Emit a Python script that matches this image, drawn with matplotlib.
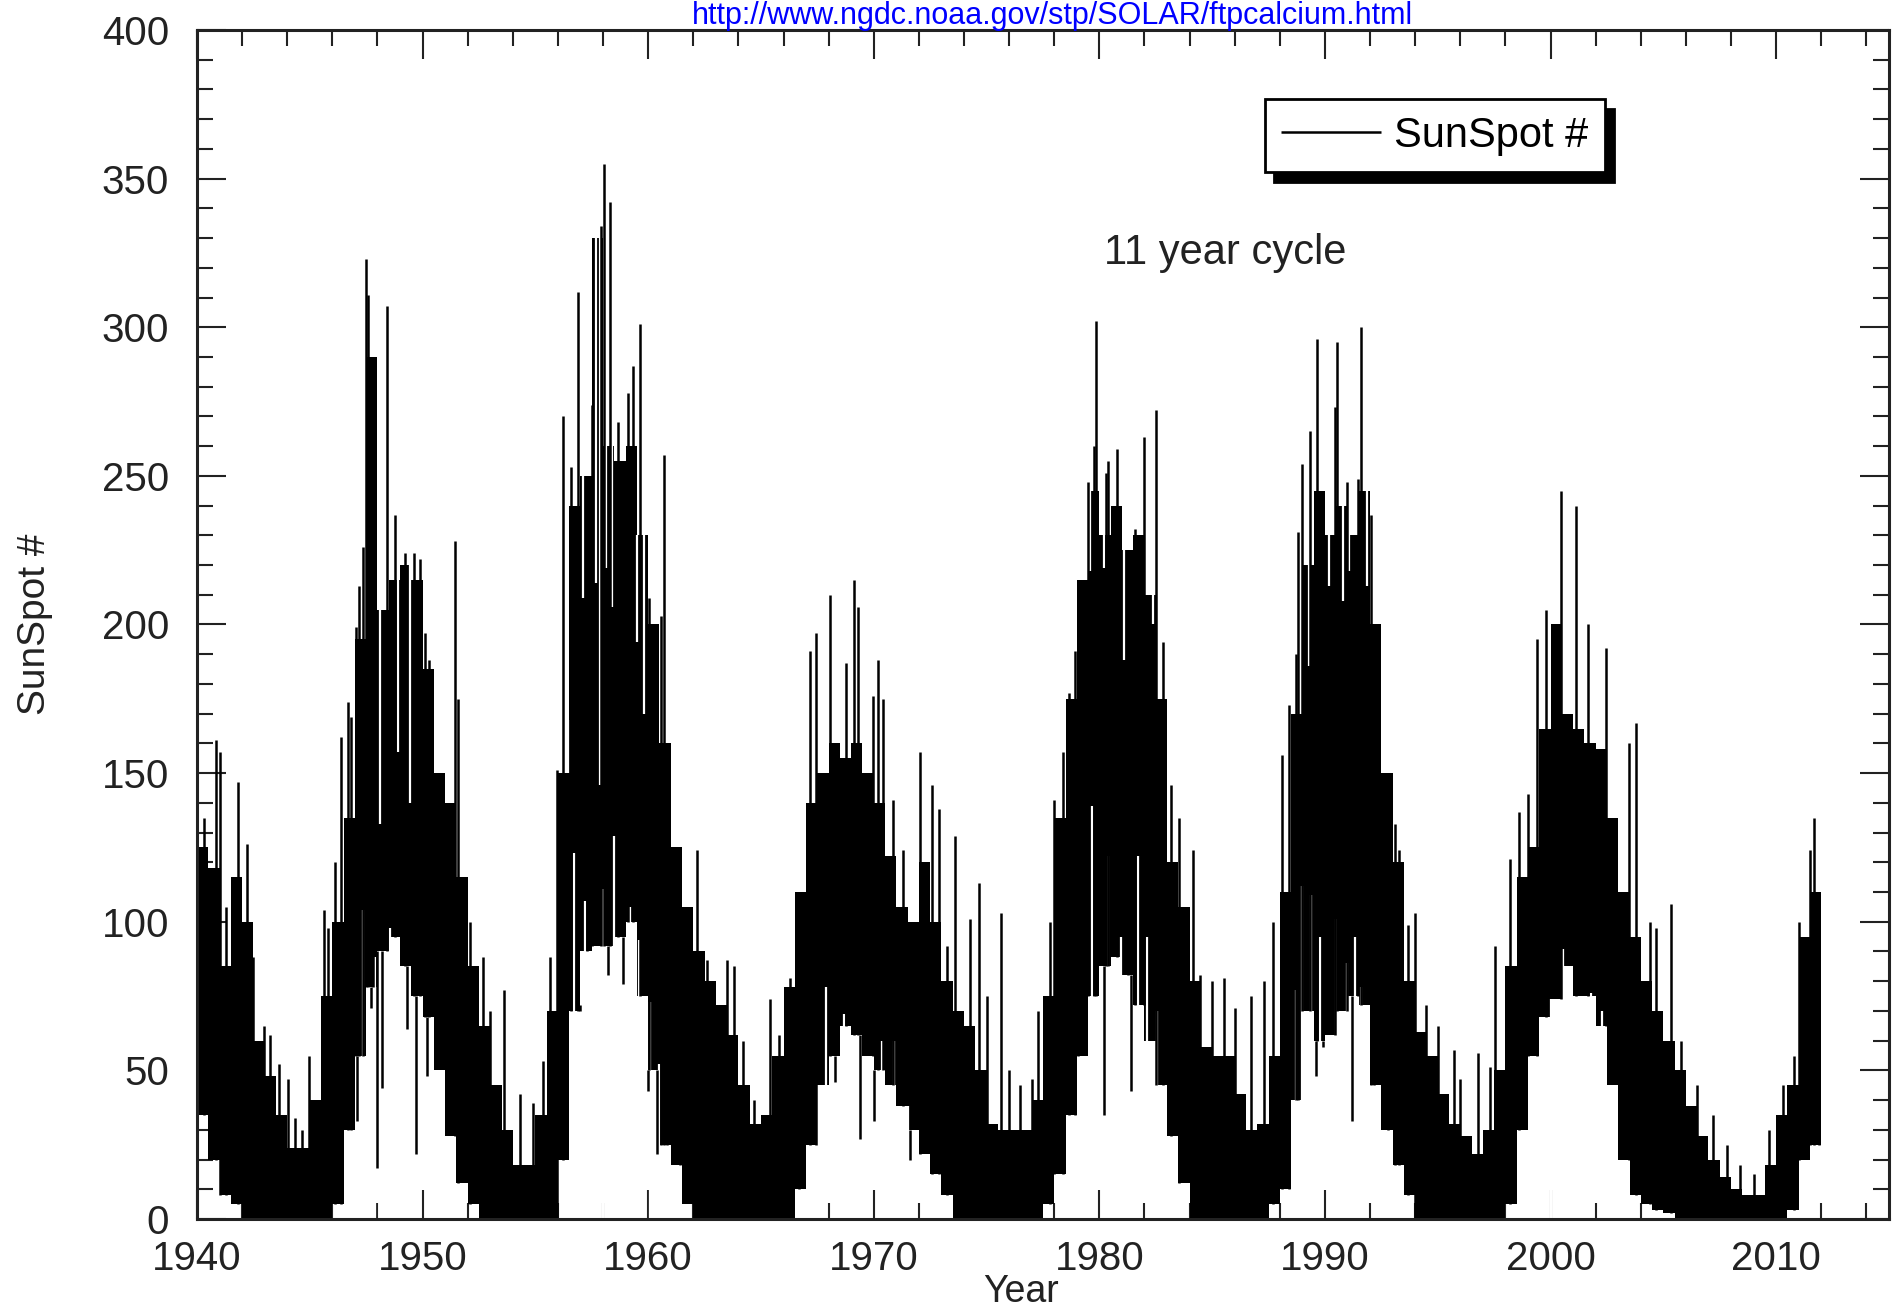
import numpy as np
import matplotlib
matplotlib.use('Agg')
import matplotlib.pyplot as plt
from matplotlib.ticker import MultipleLocator

plt.rcParams['font.family'] = ['Liberation Sans', 'DejaVu Sans']

URL = 'http://www.ngdc.noaa.gov/stp/SOLAR/ftpcalcium.html'

# half-year bins (start year) with the solid low / high of the daily trace
BIN_START = np.arange(1940.0, 2012.0, 0.5)
CORE_LO = [35, 20, 8, 5, 0, 0, 0, 0, 0, 0, 0, 0, 5, 30, 55, 78, 90, 95, 85, 75,           # 1940-49
           68, 50, 28, 12, 5, 0, 0, 0, 0, 0, 0, 0, 20, 70, 90, 92, 92, 95, 100, 75,       # 1950-59
           50, 25, 18, 5, 0, 0, 0, 0, 0, 0, 0, 0, 0, 10, 25, 45, 55, 65, 62, 55,          # 1960-69
           50, 45, 38, 30, 22, 15, 8, 0, 0, 0, 0, 0, 0, 0, 0, 5, 15, 35, 55, 75,          # 1970-79
           85, 88, 82, 72, 60, 45, 28, 12, 0, 0, 0, 0, 0, 0, 0, 5, 10, 40, 70, 60,        # 1980-89
           62, 70, 75, 72, 45, 30, 18, 8, 0, 0, 0, 0, 0, 0, 0, 0, 5, 30, 55, 68,          # 1990-99
           74, 85, 75, 75, 65, 45, 20, 8, 5, 3, 2, 0, 0, 0, 0, 0, 0, 0, 0, 0,             # 2000-09
           0, 3, 20, 25]                                                                    # 2010-11
CORE_HI = [125, 118, 85, 115, 100, 60, 48, 35, 24, 24, 40, 75, 100, 135, 195, 290, 205, 215, 220, 215,
           185, 150, 140, 115, 85, 65, 45, 30, 18, 18, 35, 70, 150, 240, 250, 330, 260, 255, 260, 230,
           200, 160, 125, 105, 90, 80, 72, 62, 45, 32, 35, 55, 78, 110, 140, 150, 160, 155, 160, 150,
           140, 122, 105, 100, 120, 100, 80, 70, 65, 50, 32, 30, 30, 30, 40, 75, 135, 175, 215, 245,
           230, 240, 225, 230, 210, 175, 120, 105, 80, 58, 55, 55, 42, 30, 32, 55, 110, 170, 220, 245,
           230, 240, 230, 245, 200, 150, 120, 80, 63, 55, 42, 32, 28, 22, 30, 50, 85, 115, 125, 165,
           200, 170, 165, 160, 158, 135, 110, 95, 80, 70, 60, 50, 38, 28, 20, 14, 10, 8, 8, 18,
           35, 45, 95, 110]

# isolated daily spikes standing above the solid trace
SPIKE_YR = [1940.3, 1940.85, 1941.0, 1941.3, 1941.8, 1942.2, 1942.5, 1942.95, 1943.25, 1943.65,
            1944.05, 1944.35, 1944.65, 1944.98, 1945.3, 1945.64, 1945.8, 1946.1, 1946.4, 1946.7,
            1946.85, 1947.06, 1947.2, 1947.34, 1947.5, 1947.58, 1947.81, 1948.41, 1948.8, 1949.2,
            1949.6, 1949.87, 1950.11, 1950.3, 1951.45, 1951.55, 1952.1, 1952.7, 1953.0, 1953.6,
            1954.3, 1954.9, 1955.35, 1955.65, 1955.94, 1956.22, 1956.56, 1956.88, 1957.3, 1957.51,
            1957.9, 1958.06, 1958.3, 1958.66, 1959.09, 1959.35, 1959.65, 1960.04, 1960.58, 1960.68,
            1960.82, 1961.4, 1962.15, 1962.6, 1963.5, 1963.8, 1964.2, 1964.7, 1965.4, 1965.8,
            1966.3, 1966.7, 1967.17, 1967.45, 1968.08, 1968.77, 1969.14, 1969.3, 1969.96, 1970.19,
            1970.4, 1970.85, 1971.28, 1972.07, 1972.6, 1972.9, 1973.26, 1973.62, 1974.25, 1974.65,
            1975.0, 1975.64, 1976.0, 1976.5, 1977.0, 1977.3, 1977.81, 1978.0, 1978.4, 1978.66,
            1978.9, 1979.06, 1979.5, 1979.75, 1979.85, 1980.29, 1980.4, 1980.78, 1981.28, 1981.57,
            1981.97, 1982.5, 1982.83, 1983.16, 1983.55, 1984.15, 1984.45, 1985.0, 1985.53, 1986.0,
            1986.72, 1987.3, 1987.7, 1988.1, 1988.4, 1988.7, 1988.8, 1989.0, 1989.35, 1989.65,
            1990.44, 1990.54, 1990.97, 1991.47, 1991.61, 1992.02, 1992.16, 1992.8, 1993.1, 1993.3,
            1993.7, 1994.0, 1994.5, 1995.0, 1995.7, 1996.0, 1996.8, 1997.3, 1997.53, 1998.2,
            1998.6, 1999.0, 1999.38, 1999.79, 2000.46, 2001.12, 2001.67, 2002.44, 2003.49, 2003.78,
            2004.4, 2004.67, 2005.36, 2005.8, 2006.5, 2007.2, 2007.8, 2008.4, 2009.0, 2009.7,
            2010.3, 2010.8, 2011.02, 2011.5, 2011.69, 2011.9]
SPIKE_TOP = [135, 161, 157, 105, 147, 126, 88, 65, 62, 52,
             47, 34, 30, 55, 40, 104, 98, 120, 162, 174,
             169, 199, 213, 226, 323, 311, 275, 307, 237, 224,
             224, 222, 197, 188, 228, 175, 100, 88, 70, 77,
             42, 39, 53, 88, 151, 270, 253, 312, 250, 274,
             334, 355, 342, 268, 278, 287, 301, 209, 203, 257,
             144, 113, 124, 87, 87, 85, 60, 40, 74, 62,
             81, 95, 191, 197, 210, 187, 215, 206, 176, 188,
             175, 141, 124, 157, 146, 138, 92, 129, 101, 113,
             75, 103, 50, 45, 47, 70, 100, 141, 157, 177,
             191, 209, 248, 260, 302, 251, 255, 259, 214, 232,
             263, 272, 194, 146, 135, 124, 82, 80, 81, 71,
             75, 80, 100, 156, 173, 190, 231, 254, 265, 296,
             273, 295, 248, 249, 300, 237, 196, 137, 133, 124,
             99, 103, 72, 65, 57, 47, 56, 51, 92, 121,
             137, 143, 195, 205, 245, 240, 200, 192, 160, 167,
             100, 98, 106, 60, 45, 35, 25, 18, 15, 30,
             45, 55, 100, 124, 135, 95]

# isolated low days cutting white gaps up from below into the trace
NOTCH_YR = [1947.37, 1947.9, 1948.55, 1949.15,
            1956.7, 1957.2, 1958.0, 1958.5, 1959.2, 1959.6, 1960.1, 1960.5,
            1967.9, 1968.7, 1969.1, 1970.35, 1970.9, 1971.5,
            1979.69, 1980.39, 1980.98, 1981.71, 1982.09, 1982.56,
            1988.7, 1988.96, 1989.4, 1989.8, 1990.5, 1990.96, 1991.33, 1991.6,
            1999.7, 2000.0, 2000.56, 2001.0, 2001.3, 2001.8, 2002.3]
NOTCH_TOP = [104, 88, 98, 85,
             123, 107, 111, 129, 105, 94, 73, 52,
             78, 69, 60, 60, 60, 38,
             139, 122, 95, 122, 95, 70,
             77, 112, 109, 95, 101, 86, 95, 78,
             50, 74, 91, 55, 74, 76, 70]

# days sitting below their neighbours inside the peaks (white from here up)
GAP_YR = [1948.1, 1948.9, 1949.44,
          1956.46, 1957.1, 1957.7, 1957.86, 1958.15, 1958.4, 1959.5, 1959.8,
          1979.6, 1980.2, 1981.08, 1982.36,
          1989.3, 1990.18, 1990.8, 1991.07, 1991.86]
GAP_BOT = [133, 157, 140,
           168, 209, 214, 146, 219, 206, 194, 170,
           218, 219, 188, 200,
           186, 213, 208, 218, 213]

# quiet days hanging below the solid trace
DIP_YR = [1947.1, 1947.7, 1948.0, 1948.2, 1949.3, 1949.7, 1950.2,
          1956.98, 1958.2, 1958.9, 1960.0, 1960.4,
          1968.3, 1969.4, 1970.0, 1971.6,
          1980.2, 1981.4,
          1988.9, 1989.6, 1989.9, 1991.2]
DIP_BOT = [33, 71, 17, 44, 64, 22, 48,
           72, 82, 79, 43, 22,
           46, 27, 33, 20,
           35, 43,
           40, 48, 58, 33]

fig = plt.figure(figsize=(18.92, 13.15), dpi=100)
ax = fig.add_axes([0.1041, 0.0730, 0.8943, 0.9042])

edges = np.append(BIN_START, BIN_START[-1] + 0.5)
lo = np.append(CORE_LO, CORE_LO[-1])
hi = np.append(CORE_HI, CORE_HI[-1])


def at_bin(values, years):
    return np.array(values)[np.searchsorted(BIN_START, years, side='right') - 1]


ax.fill_between(edges, lo, hi, step='post', color='black', lw=0, zorder=2)
ax.vlines(NOTCH_YR, 0, NOTCH_TOP, color='white', lw=1.6, zorder=3)
ax.vlines(GAP_YR, GAP_BOT, at_bin(CORE_HI, GAP_YR), color='white', lw=1.6, zorder=3)
ax.vlines(DIP_YR, DIP_BOT, at_bin(CORE_LO, DIP_YR), color='black', lw=1.8, zorder=4)
ax.vlines(SPIKE_YR, at_bin(CORE_LO, SPIKE_YR), SPIKE_TOP, color='black', lw=1.8, zorder=4,
          label='SunSpot #')

ax.set_xlim(1940, 2015)
ax.set_ylim(0, 400)
ax.xaxis.set_major_locator(MultipleLocator(10))
ax.xaxis.set_minor_locator(MultipleLocator(2))
ax.yaxis.set_major_locator(MultipleLocator(50))
ax.yaxis.set_minor_locator(MultipleLocator(10))
ax.tick_params(which='both', direction='in', top=True, right=True, width=1.5, color='#222')
ax.tick_params(which='major', length=21)
ax.tick_params(which='minor', length=11.5)
ax.tick_params(axis='x', labelsize=29, pad=15, labelcolor='#222')
ax.tick_params(axis='y', labelsize=29, pad=20, labelcolor='#222')
for s in ax.spines.values():
    s.set_linewidth(2.2)
    s.set_color('#222')
    s.set_zorder(6)

ax.set_xlabel('Year', fontsize=27, color='#222')
ax.xaxis.set_label_coords(0.487, -0.0698)
ax.xaxis.label.set_verticalalignment('baseline')
ax.set_ylabel('SunSpot #', fontsize=28, color='#222')
ax.yaxis.set_label_coords(-0.085, 0.5)

leg = ax.legend(loc='upper left', bbox_to_anchor=(0.631, 0.942), borderaxespad=0,
                fontsize=30, handlelength=2.4, handletextpad=0.3, fancybox=False,
                edgecolor='black', framealpha=1,
                shadow={'ox': 7, 'oy': -7, 'color': 'black', 'alpha': 1})
leg.get_frame().set_linewidth(2)

ax.text(1985.57, 325, '11 year cycle', ha='center', va='center', fontsize=30, color='#222')
fig.text(0.556, 0.9815, URL, ha='center', va='baseline', fontsize=22, color='#0000ff')

fig.savefig('out.png', dpi=100, facecolor='white')
